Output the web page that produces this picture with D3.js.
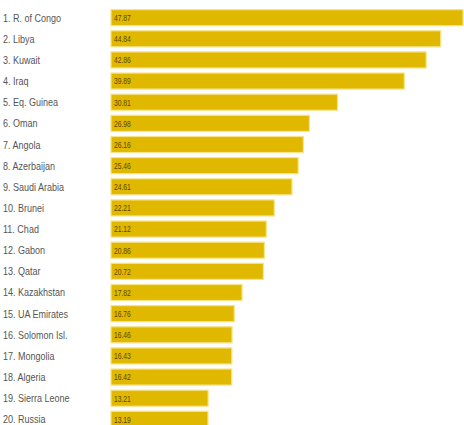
<!DOCTYPE html>
<html><head><meta charset="utf-8">
<script src="https://cdn.jsdelivr.net/npm/d3@7"></script>
<style>body{margin:0;background:#fff;}svg{display:block;}</style>
</head><body>
<script>
const countries = ["1. R. of Congo","2. Libya","3. Kuwait","4. Iraq","5. Eq. Guinea","6. Oman","7. Angola","8. Azerbaijan","9. Saudi Arabia","10. Brunei","11. Chad","12. Gabon","13. Qatar","14. Kazakhstan","15. UA Emirates","16. Solomon Isl.","17. Mongolia","18. Algeria","19. Sierra Leone","20. Russia"];
const values = [47.87,44.84,42.86,39.89,30.81,26.98,26.16,25.46,24.61,22.21,21.12,20.86,20.72,17.82,16.76,16.46,16.43,16.42,13.21,13.19];

const W = 464, H = 425;
const svg = d3.select("body").append("svg").attr("width", W).attr("height", H);
const x = d3.scaleLinear().domain([0, 47.87]).range([111, 463]);
const y = d3.scaleBand().domain(countries).range([7.5, 429.5]).paddingInner(0.24).paddingOuter(0.1);

const g = svg.selectAll("g.row").data(countries).enter().append("g");
g.append("rect")
  .attr("x", x(0)).attr("y", d => y(d))
  .attr("width", (d,i) => x(values[i]) - x(0))
  .attr("height", y.bandwidth())
  .attr("fill", "#E1B800")
  .attr("stroke", "#F6E38A").attr("stroke-width", 1.2);
g.append("text")
  .attr("transform", d => `translate(3,${y(d) + y.bandwidth()/2 + 4}) scale(0.82,1)`)
  .attr("font-family", "'Liberation Sans', Arial, sans-serif")
  .attr("font-size", 11).attr("fill", "#555")
  .text(d => d);
g.append("text")
  .attr("transform", d => `translate(${x(0) + 3},${y(d) + y.bandwidth()/2 + 3.3}) scale(0.75,1)`)
  .attr("font-family", "'Liberation Sans', Arial, sans-serif")
  .attr("font-size", 9).attr("fill", "#5a4500")
  .text((d,i) => values[i].toFixed(2));
</script>
</body></html>
